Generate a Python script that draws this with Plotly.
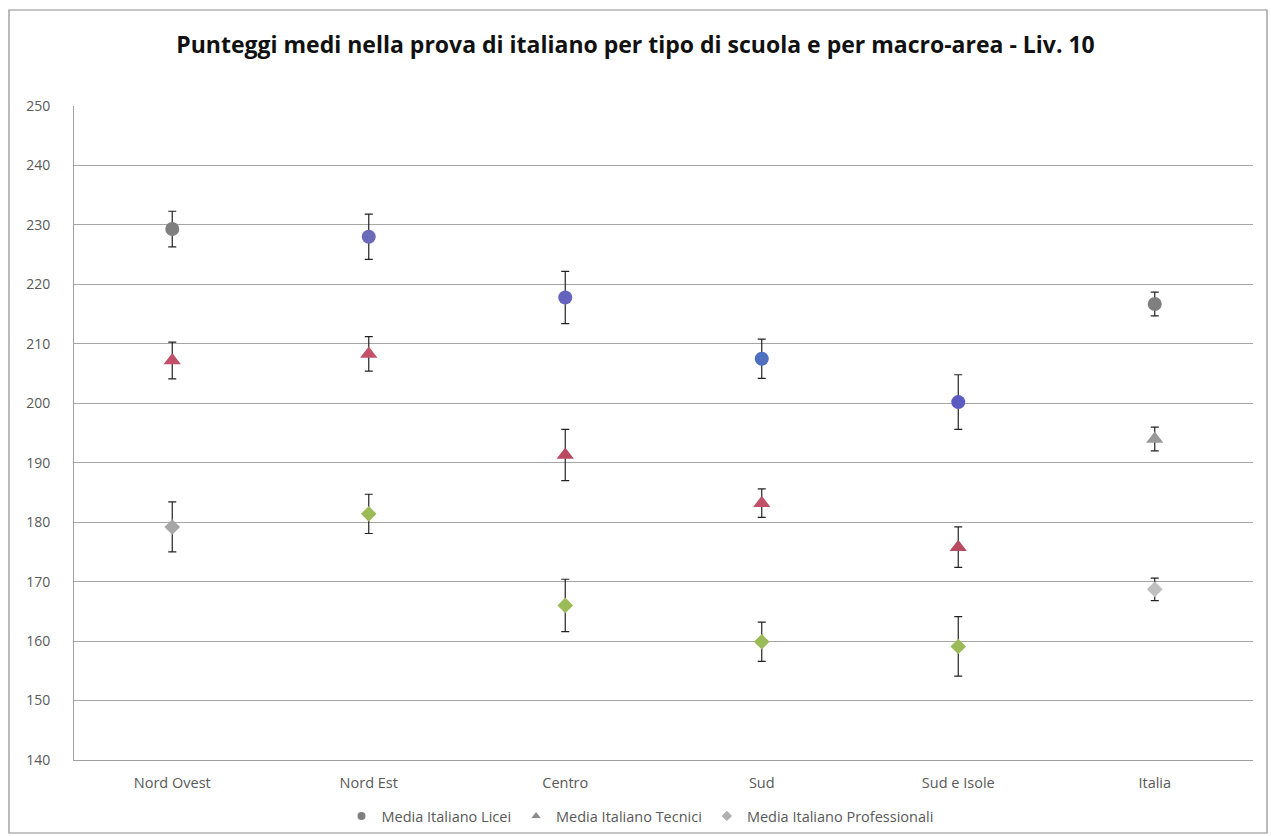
import plotly.graph_objects as go

categories = ["Nord Ovest", "Nord Est", "Centro", "Sud", "Sud e Isole", "Italia"]

licei = [229.3, 228.0, 217.8, 207.5, 200.2, 216.7]
licei_err = [3.0, 3.8, 4.4, 3.3, 4.6, 2.0]

tecnici = [207.2, 208.3, 191.3, 183.2, 175.8, 194.0]
tecnici_err = [3.1, 2.9, 4.3, 2.4, 3.4, 2.0]

professionali = [179.2, 181.4, 166.0, 159.9, 159.1, 168.7]
professionali_err = [4.2, 3.3, 4.4, 3.3, 5.0, 1.9]

series_names = ["Media Italiano Licei", "Media Italiano Tecnici", "Media Italiano Professionali"]

# styles
licei_colors = ["#7f7f7f", "#6a6ab8", "#6464bf", "#4f6fc0", "#5a5ac2", "#7f7f7f"]
tecnici_colors = ["#c25068", "#c25068", "#b84a62", "#c25068", "#b84a62", "#999999"]
prof_colors = ["#a6a6a6", "#9bbb59", "#9bbb59", "#9bbb59", "#9bbb59", "#bfbfbf"]
legend_colors = ["#7f7f7f", "#8c8c8c", "#b0b0b0"]
symbols = ["circle", "triangle-up", "diamond"]
sizes = [14, 15, 12]

font_family = "Open Sans, Liberation Sans, sans-serif"

fig = go.Figure()

for vals, errs, cols, sym, sz in [
    (licei, licei_err, licei_colors, symbols[0], sizes[0]),
    (tecnici, tecnici_err, tecnici_colors, symbols[1], sizes[1]),
    (professionali, professionali_err, prof_colors, symbols[2], sizes[2]),
]:
    fig.add_trace(go.Scatter(
        x=categories, y=vals, mode="markers", showlegend=False,
        marker=dict(symbol=sym, size=sz, color=cols, line=dict(width=0)),
        error_y=dict(type="data", array=errs, visible=True, color="#222222", thickness=1.2, width=4),
    ))

for name, col, sym in zip(series_names, legend_colors, symbols):
    fig.add_trace(go.Scatter(
        x=[None], y=[None], mode="markers", name=name,
        marker=dict(symbol=sym, size=8, color=col),
    ))

# plot area pixels
L, R, T, B = 74, 1253, 106, 760
W, H = 1271, 836
pw, ph = R - L, B - T

def px_x(p):
    return (p - L) / pw

def px_y(p):
    return (B - p) / ph

fig.add_shape(type="rect", xref="paper", yref="paper",
              x0=px_x(9), x1=px_x(1267), y0=px_y(833), y1=px_y(10),
              line=dict(color="#8c8c8c", width=1.2), fillcolor="rgba(0,0,0,0)", layer="below")

fig.update_layout(
    width=W, height=H,
    margin=dict(l=L, r=W - R, t=T, b=H - B, autoexpand=False),
    paper_bgcolor="white", plot_bgcolor="white",
    title=dict(text="<b>Punteggi medi nella prova di italiano per tipo di scuola e per macro-area - Liv. 10</b>",
               x=635.5 / W, xref="container", xanchor="center", y=1 - 45 / H, yanchor="middle", yref="container",
               font=dict(family=font_family, size=23, color="#111111")),
    font=dict(family=font_family, color="#595959", size=14),
    legend=dict(orientation="h", x=px_x(640), xanchor="center", y=px_y(816), yanchor="middle",
                font=dict(size=14.5, color="#595959"), itemwidth=30, tracegroupgap=0,
                bgcolor="rgba(0,0,0,0)"),
    xaxis=dict(showgrid=False, showline=True, linecolor="#a0a0a0", linewidth=1,
               ticks="", tickfont=dict(size=14.5, color="#595959"), ticklabelstandoff=10,
               range=[-0.5, 5.5], zeroline=False),
    yaxis=dict(range=[140, 250], dtick=10, tick0=140, showgrid=True, gridcolor="#a6a6a6", gridwidth=1,
               showline=True, linecolor="#a0a0a0", linewidth=1, ticks="",
               tickfont=dict(size=14, color="#595959"), ticklabelstandoff=20, zeroline=False),
)

fig.write_html("out.html",
               config={"displayModeBar": False},
               post_script="document.body.style.margin='0';document.body.style.overflow='hidden';")
